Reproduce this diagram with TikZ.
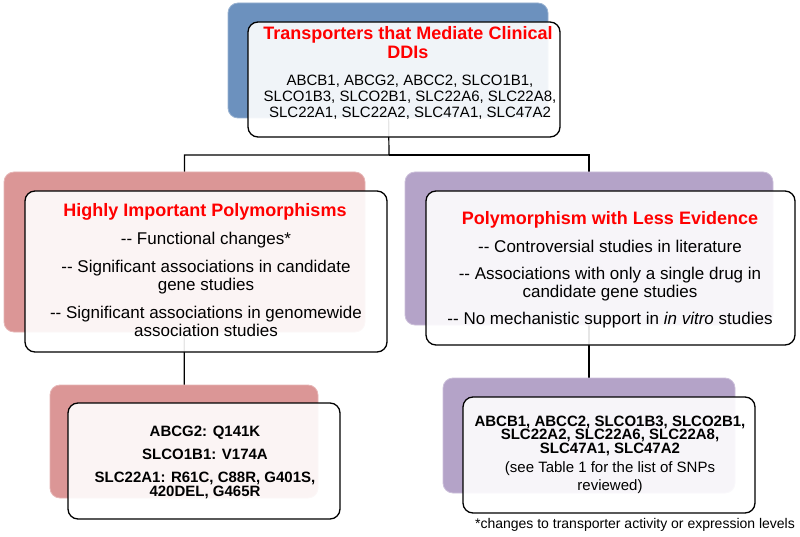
\documentclass[tikz,border=0pt]{standalone}
\usepackage{fontspec}
\setmainfont{Liberation Sans}
\usetikzlibrary{backgrounds}

\definecolor{boxblue}{RGB}{108,145,190}
\definecolor{boxred}{RGB}{219,150,150}
\definecolor{boxpurple}{RGB}{180,163,200}
\newcommand\twodash{-{}-}

\begin{document}
\begin{tikzpicture}[
x=1pt, y=-1pt,
backbox/.style={draw=#1!70!white, line width=0.8pt, fill=#1, rounded corners=10pt, inner sep=0pt},
frontbox/.style={draw=black, line width=1.3pt, fill=white, fill opacity=0.9, rounded corners=10pt, inner sep=0pt},
headtext/.style={text=red, align=center, inner sep=0pt, font=\fontsize{18}{19}\selectfont\bfseries},
toptext/.style={align=center, inner sep=0pt, font=\fontsize{15}{16}\selectfont},
midtext/.style={align=center, inner sep=0pt, font=\fontsize{17}{18}\selectfont},
lowtext/.style={align=center, inner sep=0pt, font=\fontsize{15}{14}\selectfont\bfseries},
link/.style={draw=black, line width=1.2pt},
]
\useasboundingbox (0,0) rectangle (800,537);

% top box
\node[backbox=boxblue, minimum width=320pt, minimum height=115pt] (topback) at (388,60.5) {};
\node[frontbox, minimum width=312pt, minimum height=115pt] (topfront) at (404,79.5) {};
\node[headtext] (tophead) at (408,43) {Transporters that Mediate Clinical\\DDIs};
\node[toptext] (topbody) at (410,97) {ABCB1, ABCG2, ABCC2, SLCO1B1,\\SLCO1B3, SLCO2B1, SLC22A6, SLC22A8,\\SLC22A1, SLC22A2, SLC47A1, SLC47A2};

% middle left
\node[backbox=boxred, minimum width=361pt, minimum height=160pt] (hiback) at (184.5,252) {};
\node[frontbox, minimum width=362pt, minimum height=161pt] (hifront) at (206,271.5) {};
\node[headtext] (hihead) at (205,212) {Highly Important Polymorphisms};
\node[midtext] (hibody) at (206,284) {\twodash{} Functional changes*\\[10pt]
  \twodash{} Significant associations in candidate\\gene studies\\[10pt]
  \twodash{} Significant associations in genomewide\\association studies};

% middle right
\node[backbox=boxpurple, minimum width=368pt, minimum height=153pt] (loback) at (589,248.5) {};
\node[frontbox, minimum width=369pt, minimum height=154pt] (lofront) at (610.5,268) {};
\node[headtext] (lohead) at (610,220) {Polymorphism with Less Evidence};
\node[midtext] (lobody) at (610,284) {\twodash{} Controversial studies in literature\\[9pt]
  \twodash{} Associations with only a single drug in\\candidate gene studies\\[9pt]
  \twodash{} No mechanistic support in \textit{in vitro} studies};

% bottom left
\node[backbox=boxred, minimum width=268pt, minimum height=113pt] (snpback) at (184,441.5) {};
\node[frontbox, minimum width=272pt, minimum height=116pt] (snpfront) at (204,461) {};
\node[lowtext] (snpbody) at (205,462) {ABCG2: Q141K\\[9pt]SLCO1B1: V174A\\[9pt]SLC22A1: R61C, C88R, G401S,\\420DEL, G465R};

% bottom right
\node[backbox=boxpurple, minimum width=292pt, minimum height=115pt] (restback) at (589,435.5) {};
\node[frontbox, minimum width=292pt, minimum height=116pt] (restfront) at (609,455) {};
\node[lowtext, font=\fontsize{15}{13.5}\selectfont\bfseries] (restbody) at (610,435.5) {ABCB1, ABCC2, SLCO1B3, SLCO2B1,\\SLC22A2, SLC22A6, SLC22A8,\\SLC47A1, SLC47A2};
\node[toptext, font=\fontsize{15}{18}\selectfont] (restnote) at (610,478) {(see Table 1 for the list of SNPs\\reviewed)};

\node[inner sep=0pt, font=\fontsize{14}{15}\selectfont] (footnote) at (635,525) {*changes to transporter activity or expression levels};

% connectors
\coordinate (split) at (389,155);
\begin{scope}[on background layer]
\draw[link] (topback.center) -- (split) -| (hiback.center);
\draw[link] (split) -| (loback.center);
\draw[link] (hiback.center) -- (snpback.center);
\draw[link] (loback.center) -- (restback.center);
\end{scope}

\end{tikzpicture}
\end{document}
